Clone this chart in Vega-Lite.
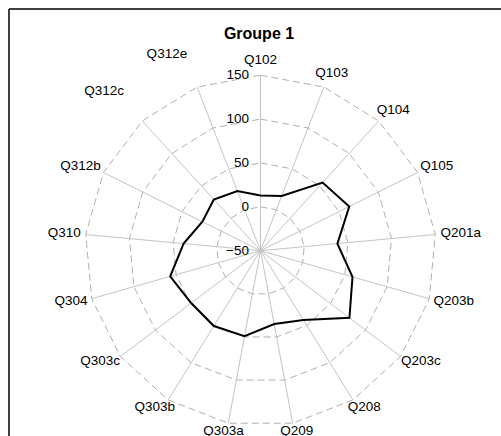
{
  "$schema": "https://vega.github.io/schema/vega-lite/v6.json",
  "width": 492,
  "height": 427,
  "autosize": "none",
  "padding": {"left": 9, "top": 9, "right": 0, "bottom": 0},
  "background": "white",
  "title": {"text": "Groupe 1", "fontSize": 16, "font": "Liberation Sans", "fontWeight": "bold", "color": "#000000", "anchor": "middle", "frame": "group", "offset": -46, "baseline": "alphabetic", "dx": 4},
  "config": {"view": {"stroke": "#000000", "strokeWidth": 1.5, "strokeDash": [492, 919, 427, 0]}, "font": "Liberation Sans"},
  "datasets": {
    "cats": [
      {"q": "Q102", "v": 13},
      {"q": "Q103", "v": 17},
      {"q": "Q104", "v": 55},
      {"q": "Q105", "v": 63},
      {"q": "Q201a", "v": 38},
      {"q": "Q203b", "v": 59},
      {"q": "Q203c", "v": 77},
      {"q": "Q208", "v": 43},
      {"q": "Q209", "v": 35},
      {"q": "Q303a", "v": 49},
      {"q": "Q303b", "v": 51},
      {"q": "Q303c", "v": 49},
      {"q": "Q304", "v": 57},
      {"q": "Q310", "v": 38},
      {"q": "Q312b", "v": 24},
      {"q": "Q312c", "v": 29},
      {"q": "Q312e", "v": 23}
    ],
    "ticks": [{"lv": -50}, {"lv": 0}, {"lv": 50}, {"lv": 100}, {"lv": 150}]
  },
  "layer": [
    {
      "data": {"name": "cats"},
      "transform": [
        {"window": [{"op": "row_number", "as": "rn"}]},
        {"calculate": "(datum.rn - 1) * 2 * PI / 17", "as": "a"},
        {"calculate": "[0, 50, 100, 150]", "as": "lv"},
        {"flatten": ["lv"]},
        {"calculate": "(datum.lv + 50) * 0.8775 * sin(datum.a)", "as": "gx"},
        {"calculate": "(datum.lv + 50) * 0.8775 * cos(datum.a)", "as": "gy"}
      ],
      "mark": {"type": "line", "interpolate": "linear-closed", "color": "#b0b0b0", "strokeWidth": 1, "strokeDash": [7, 4]},
      "encoding": {
        "x": {"field": "gx", "type": "quantitative", "axis": null, "scale": {"domain": [-251.5, 240.5], "nice": false, "zero": false}},
        "y": {"field": "gy", "type": "quantitative", "axis": null, "scale": {"domain": [-185.3, 241.7], "nice": false, "zero": false}},
        "detail": {"field": "lv", "type": "nominal"},
        "order": {"field": "rn", "type": "quantitative"}
      }
    },
    {
      "data": {"name": "cats"},
      "transform": [
        {"window": [{"op": "row_number", "as": "rn"}]},
        {"calculate": "(datum.rn - 1) * 2 * PI / 17", "as": "a"},
        {"calculate": "0", "as": "cx"},
        {"calculate": "175.5 * sin(datum.a)", "as": "ex"},
        {"calculate": "175.5 * cos(datum.a)", "as": "ey"}
      ],
      "mark": {"type": "rule", "color": "#c4c4c4", "strokeWidth": 1},
      "encoding": {
        "x": {"field": "cx", "type": "quantitative"},
        "y": {"field": "cx", "type": "quantitative"},
        "x2": {"field": "ex"},
        "y2": {"field": "ey"}
      }
    },
    {
      "data": {"name": "cats"},
      "transform": [
        {"window": [{"op": "row_number", "as": "rn"}]},
        {"calculate": "(datum.rn - 1) * 2 * PI / 17", "as": "a"},
        {"calculate": "(datum.v + 50) * 0.8775 * sin(datum.a)", "as": "px"},
        {"calculate": "(datum.v + 50) * 0.8775 * cos(datum.a)", "as": "py"}
      ],
      "mark": {"type": "line", "interpolate": "linear-closed", "color": "#000000", "strokeWidth": 2},
      "encoding": {
        "x": {"field": "px", "type": "quantitative"},
        "y": {"field": "py", "type": "quantitative"},
        "order": {"field": "rn", "type": "quantitative"}
      }
    },
    {
      "data": {"name": "ticks"},
      "transform": [
        {"calculate": "0", "as": "cx"},
        {"calculate": "(datum.lv + 50) * 0.8775", "as": "ty"}
      ],
      "mark": {"type": "text", "align": "right", "baseline": "middle", "dx": -11.5, "fontSize": 13.5, "color": "#000000", "font": "Liberation Sans"},
      "encoding": {
        "x": {"field": "cx", "type": "quantitative"},
        "y": {"field": "ty", "type": "quantitative"},
        "text": {"field": "lv", "type": "quantitative"}
      }
    },
    {
      "data": {"name": "cats"},
      "transform": [
        {"window": [{"op": "row_number", "as": "rn"}]},
        {"calculate": "(datum.rn - 1) * 2 * PI / 17", "as": "a"},
        {"filter": "!(sin(datum.a) < 0 && cos(datum.a) > 0.5)"},
        {"calculate": "175.5 * sin(datum.a) + sin(datum.a) * (5 + length(datum.q) * 4 + 0.5)", "as": "lx"},
        {"calculate": "175.5 * cos(datum.a) + cos(datum.a) * (cos(datum.a) > 0 ? 15 : 8)", "as": "ly"}
      ],
      "mark": {"type": "text", "align": "center", "baseline": "middle", "fontSize": 13.5, "color": "#000000", "font": "Liberation Sans"},
      "encoding": {
        "x": {"field": "lx", "type": "quantitative"},
        "y": {"field": "ly", "type": "quantitative"},
        "text": {"field": "q", "type": "nominal"}
      }
    },
    {
      "data": {"name": "cats"},
      "transform": [
        {"window": [{"op": "row_number", "as": "rn"}]},
        {"calculate": "(datum.rn - 1) * 2 * PI / 17", "as": "a"},
        {"filter": "sin(datum.a) < 0 && cos(datum.a) > 0.5"},
        {"calculate": "175.5 * sin(datum.a) + sin(datum.a) * (5 + length(datum.q) * 4 + 0.5)", "as": "lx"},
        {"calculate": "175.5 * cos(datum.a) + cos(datum.a) * 15", "as": "ly"}
      ],
      "mark": {"type": "text", "align": "center", "baseline": "middle", "fontSize": 13.5, "color": "#000000", "font": "Liberation Sans", "dx": -21, "dy": -19},
      "encoding": {
        "x": {"field": "lx", "type": "quantitative"},
        "y": {"field": "ly", "type": "quantitative"},
        "text": {"field": "q", "type": "nominal"}
      }
    }
  ]
}
